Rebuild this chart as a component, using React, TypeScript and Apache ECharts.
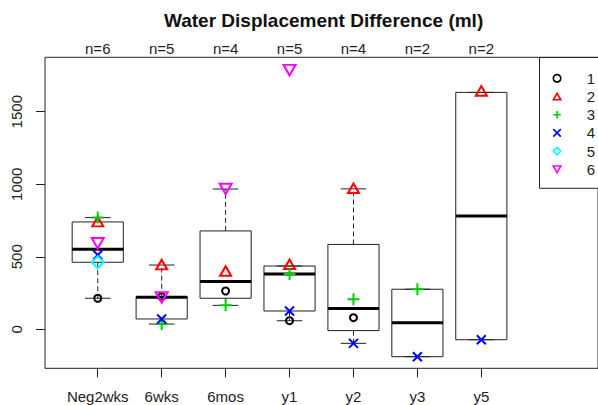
import React, { useEffect, useRef } from "react";
import * as echarts from "echarts";

const categories = ["Neg2wks", "6wks", "6mos", "y1", "y2", "y3", "y5"];
const counts = [6, 5, 4, 5, 4, 2, 2];
const yTicks = [0, 500, 1000, 1500];

// [lower whisker, lower hinge, median, upper hinge, upper whisker]
const boxStats = [
  [214, 462, 552, 740, 770],
  [36, 71, 220, 225, 443],
  [165, 214, 330, 678, 967],
  [59, 126, 381, 436, 436],
  [-97, -9, 144, 585, 968],
  [-189, -189, 45, 276, 276],
  [-72, -72, 781, 1633, 1633],
];

const series1 = [214, 225, 264, 59, 80, null, null];
const series2 = [742, 446, 402, 448, 972, null, 1643];
const series3 = [770, 36, 165, 381, 207, 276, null];
const series4 = [512, 71, null, 126, -97, -189, -72];
const series5 = [462, null, null, null, null, null, null];
const series6 = [593, 220, 967, 1787, null, null, null];

const seriesNames = ["1", "2", "3", "4", "5", "6"];
const seriesValues = [series1, series2, series3, series4, series5, series6];

const FONT = '"Liberation Sans", Arial, sans-serif';
const INK = "#222";

const symbolDefs = [
  { symbol: "circle", size: 7, color: "#000000" },
  { symbol: "path://M5,0L10,8.66L0,8.66Z", size: [11, 9.5], color: "#FF0000" },
  { symbol: "path://M5,0L5,10M0,5L10,5", size: 12, color: "#00CD00" },
  { symbol: "path://M0,0L10,10M10,0L0,10", size: 9, color: "#0000FF" },
  { symbol: "path://M5,0L10,5L5,10L0,5Z", size: 12, color: "#00FFFF" },
  { symbol: "path://M0,0L10,0L5,8.66Z", size: [12, 10.5], color: "#FF00FF" },
];

const positions = categories.map((_, i) => i + 1);

export default function App() {
  const ref = useRef<HTMLDivElement>(null);
  useEffect(() => {
    if (!ref.current) return;
    const chart = echarts.init(ref.current, null, { renderer: "svg" });

    const boxData = boxStats.map((s, i) => [positions[i], ...s]);

    const scatterSeries = seriesValues.map((vals, k) => {
      const d = symbolDefs[k];
      return {
        type: "scatter",
        name: seriesNames[k],
        symbol: d.symbol,
        symbolSize: d.size,
        z: 5,
        data: vals
          .map((v, i) => (v === null ? null : [positions[i], v]))
          .filter((p) => p !== null),
        itemStyle: {
          color: "transparent",
          borderColor: d.color,
          borderWidth: 2,
          opacity: 1,
        },
        emphasis: { disabled: true },
      };
    });

    const option: any = {
      animation: false,
      title: {
        text: "Water Displacement Difference (ml)",
        left: 164,
        top: 11,
        padding: 0,
        textStyle: { fontSize: 19, fontWeight: "bold", fontFamily: FONT, color: "#111" },
      },
      grid: {
        left: 45,
        top: 57.3,
        right: -6,
        bottom: 36.7,
        show: true,
        borderColor: INK,
        borderWidth: 1,
        backgroundColor: "transparent",
      },
      legend: {
        orient: "vertical",
        left: 552.5,
        top: 70.8,
        padding: 0,
        itemGap: 3.2,
        itemWidth: 7.5,
        itemHeight: 7.5,
        symbolKeepAspect: true,
        selectedMode: false,
        data: seriesNames,
        formatter: (name: string) => "{t|" + name + "}",
        textStyle: {
          fontSize: 15,
          lineHeight: 15,
          color: INK,
          fontFamily: FONT,
          rich: {
            t: { fontSize: 15, lineHeight: 15, color: INK, fontFamily: FONT, padding: [0, 0, 0, 21] },
          },
        },
        itemStyle: { borderWidth: 1.6 },
      },
      graphic: [
        {
          type: "rect",
          z: 3,
          shape: { x: 539.5, y: 57.5, width: 80, height: 130.8 },
          style: { fill: "#fff", stroke: INK, lineWidth: 1 },
        },
      ],
      xAxis: [
        {
          type: "value",
          min: 0.175,
          max: 8.825,
          position: "bottom",
          axisLine: { show: false, onZero: false },
          splitLine: { show: false },
          axisTick: {
            show: true,
            customValues: positions,
            length: 9,
            lineStyle: { color: INK },
          },
          axisLabel: {
            show: true,
            customValues: positions,
            margin: 21,
            fontSize: 15,
            color: INK,
            fontFamily: FONT,
            formatter: (v: number) => categories[Math.round(v) - 1] ?? "",
          },
        },
        {
          type: "value",
          min: 0.175,
          max: 8.825,
          position: "top",
          axisLine: { show: false, onZero: false },
          splitLine: { show: false },
          axisTick: { show: false },
          axisLabel: {
            show: true,
            customValues: positions,
            margin: 1,
            fontSize: 15,
            color: INK,
            fontFamily: FONT,
            formatter: (v: number) => {
              const c = counts[Math.round(v) - 1];
              return c === undefined ? "" : "n=" + c;
            },
          },
        },
      ],
      yAxis: {
        type: "value",
        min: -269,
        max: 1875,
        axisLine: { show: false, onZero: false },
        splitLine: { show: false },
        axisTick: {
          show: true,
          customValues: yTicks,
          length: 9,
          lineStyle: { color: INK },
        },
        axisLabel: {
          show: true,
          customValues: yTicks,
          rotate: 90,
          margin: 21,
          fontSize: 15,
          color: INK,
          fontFamily: FONT,
          formatter: (v: number) => String(v),
        },
      },
      series: [
        {
          type: "custom",
          name: "box",
          xAxisIndex: 0,
          yAxisIndex: 0,
          z: 2,
          encode: { x: 0, y: [1, 2, 3, 4, 5] },
          data: boxData,
          renderItem: (params: any, api: any) => {
            const x = api.value(0);
            const lo = api.value(1);
            const q1 = api.value(2);
            const med = api.value(3);
            const q3 = api.value(4);
            const hi = api.value(5);
            const halfW = api.size([0.8, 0], [x, med])[0] / 2;
            const capHalf = halfW / 2;
            const cx = api.coord([x, med])[0];
            const yLo = api.coord([x, lo])[1];
            const yQ1 = api.coord([x, q1])[1];
            const yMed = api.coord([x, med])[1];
            const yQ3 = api.coord([x, q3])[1];
            const yHi = api.coord([x, hi])[1];
            const lineStyle = { stroke: INK, lineWidth: 1 };
            const dashStyle = { stroke: INK, lineWidth: 1, lineDash: [5, 3] };
            const children: any[] = [];
            if (yQ3 - yHi > 0.5) {
              children.push({ type: "line", shape: { x1: cx, y1: yQ3, x2: cx, y2: yHi }, style: dashStyle });
            }
            if (yLo - yQ1 > 0.5) {
              children.push({ type: "line", shape: { x1: cx, y1: yQ1, x2: cx, y2: yLo }, style: dashStyle });
            }
            children.push({ type: "line", shape: { x1: cx - capHalf, y1: yHi, x2: cx + capHalf, y2: yHi }, style: lineStyle });
            children.push({ type: "line", shape: { x1: cx - capHalf, y1: yLo, x2: cx + capHalf, y2: yLo }, style: lineStyle });
            children.push({
              type: "rect",
              shape: { x: cx - halfW, y: yQ3, width: 2 * halfW, height: yQ1 - yQ3 },
              style: { fill: "none", stroke: INK, lineWidth: 1 },
            });
            children.push({
              type: "line",
              shape: { x1: cx - halfW, y1: yMed, x2: cx + halfW, y2: yMed },
              style: { stroke: "#000", lineWidth: 3 },
            });
            return { type: "group", children };
          },
        },
        ...scatterSeries,
      ],
    };

    chart.setOption(option);
    return () => chart.dispose();
  }, []);

  return (
    <div
      ref={ref}
      style={{ position: "fixed", left: 0, top: 0, width: 598, height: 405, background: "#fff" }}
    />
  );
}
